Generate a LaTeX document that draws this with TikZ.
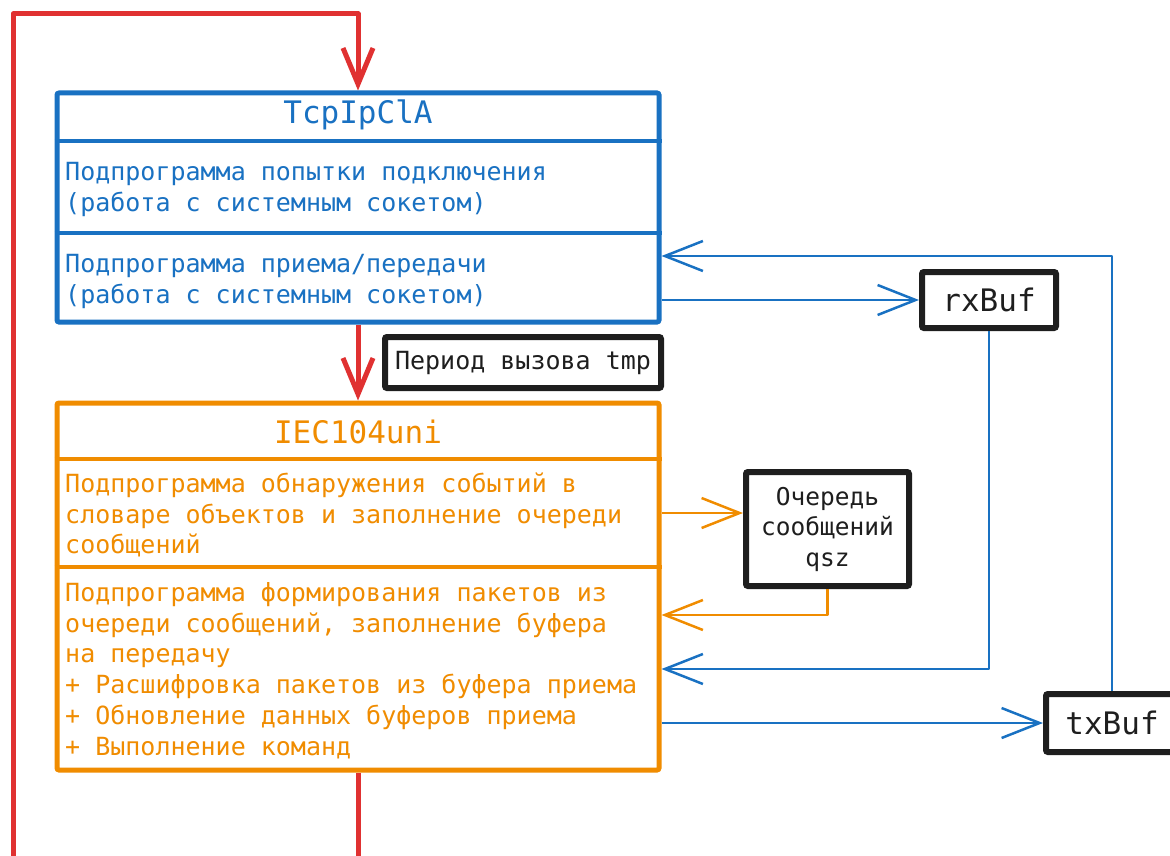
\documentclass[tikz,border=0pt]{standalone}
\usepackage{fontspec}
\setmonofont{DejaVu Sans Mono}
\usetikzlibrary{arrows.meta}
\definecolor{xblue}{HTML}{1971C2}
\definecolor{xorange}{HTML}{F08C00}
\definecolor{xred}{HTML}{E03131}
\definecolor{xdark}{HTML}{1E1E1E}
\tikzset{
  boxshape/.style={draw, rounded corners=2pt, line width=5pt, inner sep=0pt, fill=white},
  blkbox/.style={draw=xdark, rounded corners=2pt, line width=6pt, inner sep=0pt, fill=white, text=xdark},
  divider/.style={line width=3.5pt},
  txtline/.style={inner sep=0pt, anchor=base west, font=\ttfamily\fontsize{25}{31}\selectfont},
  titletxt/.style={inner sep=0pt, anchor=base, font=\ttfamily\fontsize{31}{37}\selectfont},
  conn/.style={line width=2.5pt, line join=round, -{Straight Barb[length=38pt,width=30pt]}},
  redconn/.style={draw=xred, line width=5pt, line join=round, -{Straight Barb[length=36pt,width=30pt]}},
  redline/.style={draw=xred, line width=5pt, line join=round}
}
\begin{document}
\begin{tikzpicture}[x=1pt,y=-1pt]
\useasboundingbox (0,0) rectangle (1170,856);

% main boxes
\node[boxshape, draw=xblue, minimum width=602pt, minimum height=229pt] (tcp) at (358,207.5) {};
\node[boxshape, draw=xorange, minimum width=602pt, minimum height=367pt] (iec) at (358,586.5) {};

% dividers
\draw[divider, xblue] (tcp.west |- 0,141) -- (tcp.east |- 0,141);
\draw[divider, xblue] (tcp.west |- 0,233) -- (tcp.east |- 0,233);
\draw[divider, xorange] (iec.west |- 0,459) -- (iec.east |- 0,459);
\draw[divider, xorange] (iec.west |- 0,567) -- (iec.east |- 0,567);

% TcpIpClA texts
\node[titletxt, text=xblue] (tcpT) at (358,124) {TcpIpClA};
\node[txtline, text=xblue] (tcp1) at (65,180) {Подпрограмма попытки подключения};
\node[txtline, text=xblue] (tcp2) at (65,211) {(работа с системным сокетом)};
\node[txtline, text=xblue] (tcp3) at (65,272) {Подпрограмма приема/передачи};
\node[txtline, text=xblue] (tcp4) at (65,303) {(работа с системным сокетом)};

% IEC104uni texts
\node[titletxt, text=xorange] (iecT) at (358,443) {IEC104uni};
\node[txtline, text=xorange] (iec1) at (65,492) {Подпрограмма обнаружения событий в};
\node[txtline, text=xorange] (iec2) at (65,523) {словаре объектов и заполнение очереди};
\node[txtline, text=xorange] (iec3) at (65,553) {сообщений};
\node[txtline, text=xorange] (iec4) at (65,601) {Подпрограмма формирования пакетов из};
\node[txtline, text=xorange] (iec5) at (65,632) {очереди сообщений, заполнение буфера};
\node[txtline, text=xorange] (iec6) at (65,662) {на передачу};
\node[txtline, text=xorange] (iec7) at (65,693) {+ Расшифровка пакетов из буфера приема};
\node[txtline, text=xorange] (iec8) at (65,724) {+ Обновление данных буферов приема};
\node[txtline, text=xorange] (iec9) at (65,755) {+ Выполнение команд};

% black boxes
\node[blkbox, minimum width=276pt, minimum height=51pt, font=\ttfamily\fontsize{25}{31}\selectfont] (per) at (523,362.5) {Период вызова tmp};
\node[blkbox, minimum width=134pt, minimum height=56pt, font=\ttfamily\fontsize{31}{37}\selectfont] (rx) at (989,300) {rxBuf};
\node[blkbox, minimum width=132pt, minimum height=58pt, font=\ttfamily\fontsize{31}{37}\selectfont] (tx) at (1112,723) {txBuf};
\node[blkbox, minimum width=163pt, minimum height=114pt, align=center, font=\ttfamily\fontsize{24.5}{30.5}\selectfont] (q) at (827.5,529) {Очередь\\сообщений\\qsz};

% red flow
\coordinate (rb) at (13,856);
\coordinate (rt) at (13,14);
\coordinate (rm) at (358,14);
\draw[redconn] (rb) -- (rt) -- (rm) -- (tcp.north);
\draw[redconn] (tcp.south) -- (iec.north);
\coordinate (ib) at (358,856);
\draw[redline] (iec.south) -- (ib);

% blue connectors
\draw[conn, xblue] (tx.north) |- (tcp.east |- 0,256);
\draw[conn, xblue] (tcp.east |- rx.west) -- (rx.west);
\draw[conn, xblue] (rx.south) |- (iec.east |- 0,669);
\draw[conn, xblue] (iec.east |- tx.west) -- (tx.west);

% orange connectors
\draw[conn, xorange] (iec.east |- 0,513) -- (q.west |- 0,513);
\draw[conn, xorange] (q.south) |- (iec.east |- 0,615);
\end{tikzpicture}
\end{document}
